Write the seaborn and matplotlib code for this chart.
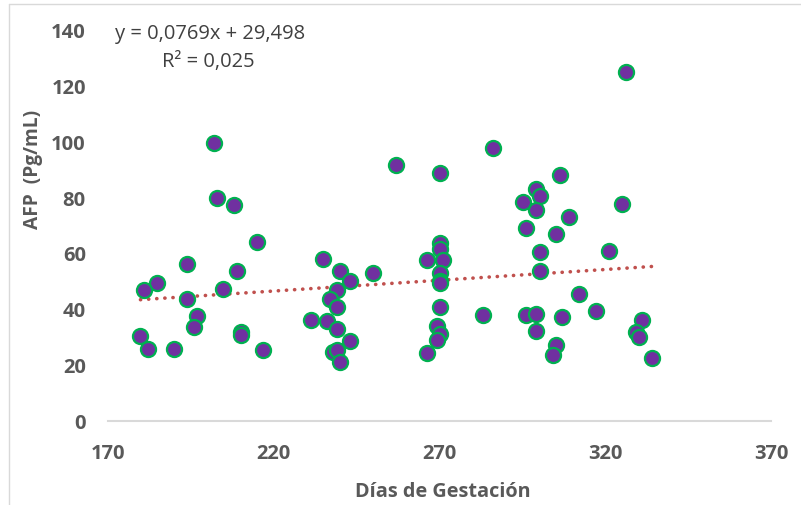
import numpy as np
import pandas as pd
import matplotlib
matplotlib.use("Agg")
import matplotlib.pyplot as plt
import seaborn as sns
from matplotlib.lines import Line2D

# ---- data ----
dias = [201.9, 202.9, 208.0, 214.9, 193.9, 208.9, 184.8, 180.8, 204.8, 193.9,
        196.9, 196.0, 179.8, 210.0, 210.0, 182.0, 189.9, 216.9,
        257.0, 270.2, 270.2, 270.2, 266.1, 271.2, 270.2, 270.2, 270.2, 270.2,
        269.1, 270.2, 269.1, 266.1, 283.0, 235.0, 240.0, 243.1, 250.0, 239.1,
        237.0, 239.1, 231.1, 236.1, 239.1, 243.1, 238.0, 239.1, 240.1,
        326.2, 286.2, 306.2, 299.2, 300.2, 295.2, 299.2, 325.2, 309.2, 296.2,
        305.2, 300.2, 321.2, 300.2, 312.2, 296.2, 299.2, 307.1, 317.2, 299.2,
        331.2, 329.2, 330.2, 305.2, 304.2, 334.2]
afp = [99.3, 79.6, 77.1, 63.8, 56.2, 53.6, 49.2, 46.8, 47.1, 43.7,
       37.4, 33.5, 30.5, 31.7, 30.7, 25.8, 25.7, 25.4,
       91.5, 88.6, 63.5, 61.3, 57.4, 57.6, 53.0, 50.1, 49.2, 40.8,
       34.0, 31.0, 28.8, 24.2, 38.0, 57.9, 53.7, 50.1, 52.7, 46.8,
       43.7, 40.8, 36.2, 35.8, 33.0, 28.6, 24.5, 25.5, 21.2,
       124.8, 97.4, 87.7, 82.7, 80.4, 78.1, 75.5, 77.4, 73.0, 68.8,
       66.7, 60.5, 60.6, 53.6, 45.5, 38.0, 38.2, 37.1, 39.4, 32.0,
       36.2, 31.8, 29.9, 27.3, 23.5, 22.5]
slope = 0.0769
intercept = 29.498
eq_text = "y = 0,0769x + 29,498"
r2_text = "R² = 0,025"
x_ticks = [170, 220, 270, 320, 370]
y_ticks = [0, 20, 40, 60, 80, 100, 120, 140]
x_label = "Días de Gestación"
y_label = "AFP  (Pg/mL)"

df = pd.DataFrame({"dias": dias, "afp": afp})

sns.set_theme(style="white")
plt.rcParams["font.family"] = ["Open Sans", "DejaVu Sans"]

W, H = 801, 506
fig = plt.figure(figsize=(W / 100, H / 100), dpi=100)
ax = fig.add_axes([108 / W, 1 - 422 / H, (771 - 108) / W, (422 - 30) / H])

sns.scatterplot(data=df, x="dias", y="afp", ax=ax, s=118,
                color="#7030A0", edgecolor="#00B050", linewidth=1.6,
                zorder=3, legend=False)

xs = np.array([min(dias), max(dias)])
ax.plot(xs, slope * xs + intercept, color="#C0504D", lw=2.6,
        linestyle=(0, (0.05, 2.2)), dash_capstyle="round", zorder=2)

ax.set_xlim(170, 370)
ax.set_ylim(0, 140)
ax.set_xticks(x_ticks)
ax.set_yticks(y_ticks)
tick_col = "#595959"
ax.tick_params(axis="both", length=0, labelsize=14.5, colors=tick_col)
ax.tick_params(axis="x", pad=16)
ax.tick_params(axis="y", pad=16)
for lab in ax.get_xticklabels() + ax.get_yticklabels():
    lab.set_fontweight("bold")
for sp in ["top", "right", "left"]:
    ax.spines[sp].set_visible(False)
ax.spines["bottom"].set_color("#D9D9D9")
ax.spines["bottom"].set_linewidth(1.5)
ax.set_xlabel("")
ax.set_ylabel("")
ax.grid(False)

fig.text(443 / W, 1 - 492 / H, x_label, ha="center", va="center",
         fontsize=14.3, fontweight="bold", color=tick_col)
fig.text(33 / W, 1 - 169 / H, y_label, ha="center", va="center", rotation=90,
         fontsize=13.8, fontweight="bold", color=tick_col)
fig.text(210 / W, 1 - 34 / H, eq_text, ha="center", va="center",
         fontsize=14.5, color="#404040")
fig.text(208 / W, 1 - 62 / H, r2_text, ha="center", va="center",
         fontsize=14.5, color="#404040")

# chart-area border (left and top visible)
fig.add_artist(Line2D([8.5 / W, 8.5 / W], [0, 1 - 4.5 / H],
                      transform=fig.transFigure, color="#D9D9D9", lw=1))
fig.add_artist(Line2D([8.5 / W, 1], [1 - 4.5 / H, 1 - 4.5 / H],
                      transform=fig.transFigure, color="#D9D9D9", lw=1))

fig.savefig("out.png", dpi=100, facecolor="white")
